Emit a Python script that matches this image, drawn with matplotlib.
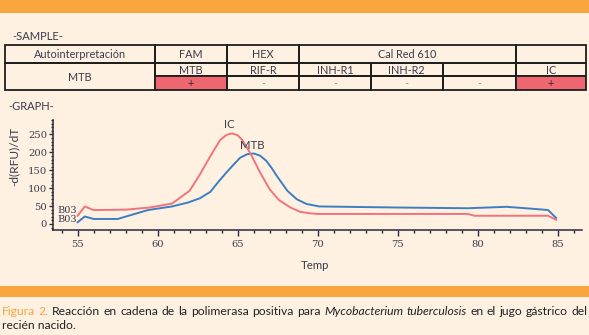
import matplotlib
matplotlib.use("Agg")
import matplotlib.pyplot as plt
from matplotlib.patches import Rectangle
from matplotlib.ticker import MultipleLocator

# --- data ---
ic_temp = [55.0, 55.45, 56.0, 58.0, 59.5, 60.9, 62.0, 62.65, 63.3, 63.9, 64.3, 64.65,
           65.0, 65.3, 65.8, 66.4, 67.0, 67.6, 68.3, 68.9, 69.5, 70.0, 75.0, 79.4,
           79.8, 84.4, 84.9]
ic_vals = [23, 49, 39, 40, 46, 57, 93, 139, 190, 234, 249, 253,
           248, 234, 197, 144, 97, 66, 46, 34, 30, 28, 28, 28,
           23, 23, 12]

mtb_temp = [55.0, 55.45, 56.0, 57.5, 59.4, 60.9, 61.9, 62.65, 63.3, 63.8, 64.3, 64.75,
            65.15, 65.6, 66.0, 66.4, 66.8, 67.1, 67.45, 67.8, 68.1, 68.7, 69.3, 70.1,
            75.0, 79.4, 81.8, 83.0, 84.4, 84.9]
mtb_vals = [5, 21, 14, 14, 39, 49, 60, 72, 90, 118, 144, 166,
            185, 195, 197, 191, 176, 158, 134, 112, 93, 69, 56, 49,
            46, 44, 48, 44, 39, 17]

header_row = ["Autointerpretación", "FAM", "HEX", "Cal Red 610", ""]
target_row = ["MTB", "RIF-R", "INH-R1", "INH-R2", "", "IC"]
result_row = ["+", "-", "-", "-", "-", "+"]
sample_name = "MTB"

# --- colours / layout ---
BG = "#FEF1E1"
ORANGE = "#F9A63F"
POS = "#EE6670"
RED = "#F2737C"
BLUE = "#3D7EC3"
TXT = "#3A3A4C"
CAP = "#222222"
W, H = 589, 335

plt.rcParams['font.family'] = ['Lato', 'DejaVu Sans']

fig = plt.figure(figsize=(W / 100, H / 100), dpi=100)
fig.patch.set_facecolor(BG)

# page axes in pixel coords for bars, table and captions
page = fig.add_axes([0, 0, 1, 1])
page.set_xlim(0, W)
page.set_ylim(H, 0)
page.axis('off')

page.add_patch(Rectangle((0, 0), W, 13, color=ORANGE, lw=0))
page.add_patch(Rectangle((0, 286), W, 11, color=ORANGE, lw=0))

page.text(12, 37, "-SAMPLE-", fontsize=8, color=TXT, va='center')
page.text(8.5, 106, "-GRAPH-", fontsize=8, color=TXT, va='center')

# table
cols = [4.5, 155, 227, 299, 371, 442.5, 516, 586]
rows = [44.7, 63.3, 75.7, 90]
lw = 1.3
ec = "#1E1E1E"

def cell(x0, x1, y0, y1, text="", face="none", color=TXT):
    page.add_patch(Rectangle((x0, y0), x1 - x0, y1 - y0, facecolor=face,
                             edgecolor=ec, lw=lw))
    if text:
        page.text((x0 + x1) / 2, (y0 + y1) / 2 + 0.5, text, ha='center', va='center',
                  fontsize=7.8, color=color)

hdr_spans = [(0, 1), (1, 2), (2, 3), (3, 6), (6, 7)]
for label, (a, b) in zip(header_row, hdr_spans):
    cell(cols[a], cols[b], rows[0], rows[1], label)

cell(cols[0], cols[1], rows[1], rows[3], sample_name)
for i, label in enumerate(target_row):
    cell(cols[i + 1], cols[i + 2], rows[1], rows[2], label)
for i, res in enumerate(result_row):
    if res == "+":
        cell(cols[i + 1], cols[i + 2], rows[2], rows[3], res, face=POS, color="#3A2A30")
    else:
        cell(cols[i + 1], cols[i + 2], rows[2], rows[3], res, color="#9A9090")

# --- chart ---
ax_l, ax_r, ax_t, ax_b = 52.5, 581.7, 120, 230
ax = fig.add_axes([ax_l / W, 1 - ax_b / H, (ax_r - ax_l) / W, (ax_b - ax_t) / H])
ax.patch.set_alpha(0)

ax.plot(mtb_temp, mtb_vals, color=BLUE, lw=1.4)
ax.plot(ic_temp, ic_vals, color=RED, lw=1.4)

ax.set_xlim(53.43, 86.5)
ax.set_ylim(-16.8, 290.5)

for s in ['top', 'right']:
    ax.spines[s].set_visible(False)
for s in ['left', 'bottom']:
    ax.spines[s].set_color("#2A2A3A")
    ax.spines[s].set_linewidth(1.1)

ax.set_xticks(range(55, 90, 5))
ax.set_yticks(range(0, 300, 50))
ax.xaxis.set_minor_locator(MultipleLocator(1))
ax.yaxis.set_minor_locator(MultipleLocator(10))
ax.tick_params(axis='both', which='both', direction='out', color="#2A2A3A", width=1.0,
               labelcolor=TXT)
ax.tick_params(axis='x', which='major', length=4, pad=3)
ax.tick_params(axis='x', which='minor', length=2.5)
ax.tick_params(axis='y', which='major', length=3, pad=1)
ax.tick_params(axis='y', which='minor', length=1.6)
for lab in ax.get_xticklabels() + ax.get_yticklabels():
    lab.set_family('DejaVu Serif')
    lab.set_fontsize(7.2)

ax.set_ylabel("-d(RFU)/dT", fontsize=8.6, color=TXT, va='center')
ax.yaxis.set_label_coords((14 - ax_l) / (ax_r - ax_l), (ax_b - 156) / (ax_b - ax_t))
ax.set_xlabel("Temp", fontsize=8.2, color=TXT, va='center')
ax.xaxis.set_label_coords((315 - ax_l) / (ax_r - ax_l), (ax_b - 265.5) / (ax_b - ax_t))

ax.text(64.46, 279, "IC", fontsize=8.2, color=TXT, ha='center', va='center')
ax.text(65.91, 220, "MTB", fontsize=8.2, color=TXT, ha='center', va='center')
ax.text(54.95, 37, "B03", fontsize=7, color=TXT, ha='right', va='center',
        family='DejaVu Serif')
ax.text(54.95, 13, "B03", fontsize=7, color=TXT, ha='right', va='center',
        family='DejaVu Serif')

# --- caption: first line justified word by word ---
cap_size = 8.7
line1 = [("Figura", ORANGE, 'normal'), ("2.", ORANGE, 'normal')]
line1 += [(w, CAP, 'normal') for w in
          "Reacción en cadena de la polimerasa positiva para".split()]
line1 += [(w, CAP, 'italic') for w in "Mycobacterium tuberculosis".split()]
line1 += [(w, CAP, 'normal') for w in "en el jugo gástrico del".split()]

renderer = fig.canvas.get_renderer()
inv = page.transData.inverted()
x_start, x_end, y1 = 1.5, 587.5, 311.7
words = []
total = 0.0
for word, col, sty in line1:
    t = page.text(0, y1, word, fontsize=cap_size, color=col, style=sty, va='center')
    bb = t.get_window_extent(renderer)
    wpx = inv.transform((bb.x1, 0))[0] - inv.transform((bb.x0, 0))[0]
    words.append((t, wpx))
    total += wpx
gap = (x_end - x_start - total) / (len(words) - 1)
x = x_start
for t, wpx in words:
    t.set_x(x)
    x += wpx + gap

page.text(x_start, 325.7, "recién nacido.", fontsize=cap_size, color=CAP, va='center')

fig.savefig("out.png", dpi=100, facecolor=BG)
